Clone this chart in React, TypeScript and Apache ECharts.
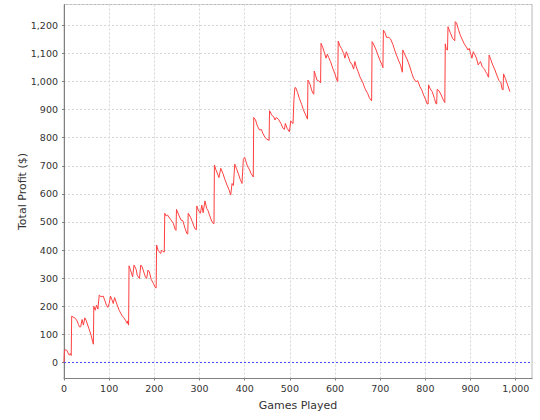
import React, { useEffect, useRef } from "react";
import * as echarts from "echarts";

const games: number[] = [
  0, 1, 5, 7, 10, 12, 14, 16,
  17, 20, 25, 29, 32, 34, 37, 40, 43, 46, 49, 55, 60, 65,
  66, 69, 72, 75, 78, 82, 87, 90, 94, 97, 100, 103, 106, 109, 112, 117, 122, 128, 132, 137, 140, 141, 143,
  144, 147, 152, 155, 160, 162, 167, 170, 173, 180, 183, 186, 189, 193, 198, 202, 204,
  205, 208, 214, 216, 219, 222,
  223, 226, 229, 236, 242, 246, 248,
  249, 254, 259, 263, 268, 272, 274,
  275, 280, 284, 288, 291, 293,
  294, 297, 302, 305, 308, 312, 316, 319, 322, 326, 329, 332,
  333, 336, 341, 343, 347, 352, 356, 361, 365, 369, 372, 375, 378, 382, 387, 390, 394, 397, 400, 403, 406, 411, 414, 418, 419,
  420, 424, 428, 433, 437, 440, 445, 449, 452, 454,
  455, 460, 464, 467, 470, 475, 480, 485, 488, 490, 494, 499, 502, 505, 507,
  509, 511, 513, 517, 521, 526, 530, 535, 539,
  540, 545, 548, 551, 553,
  554, 557, 560, 564, 567, 568,
  569, 573, 577, 580, 583, 586, 590, 595, 600, 604, 606,
  607, 611, 614, 619, 622, 625, 629, 633, 638, 641, 644, 647, 651, 655, 662, 666, 672, 676, 681,
  682, 686, 691, 695, 700, 704, 706,
  707, 711, 714, 719, 723, 728, 732, 736, 741, 745, 749,
  750, 755, 760, 765, 770, 774, 779, 783, 788, 792, 796, 801, 804, 806,
  807, 811, 815, 820, 823, 825,
  826, 830, 835, 839, 843,
  844, 846, 849,
  850, 855, 860, 863, 865,
  866, 869, 873, 877, 882, 886, 891, 894, 897, 900, 903, 906, 910, 913, 917, 922, 926, 931, 933, 936, 939, 940,
  941, 945, 949, 954, 958, 963, 967, 970, 972,
  973, 977, 982, 987,
];

const profit: number[] = [
  0, 44, 45, 41, 30, 26, 32, 25,
  165, 162, 157, 148, 135, 127, 127, 153, 133, 159, 150, 121, 97, 65,
  200, 186, 204, 190, 240, 234, 236, 222, 204, 196, 210, 236, 224, 210, 231, 208, 186, 168, 160, 148, 139, 148, 133,
  344, 330, 305, 347, 330, 311, 299, 347, 340, 305, 299, 329, 322, 296, 281, 267, 265,
  418, 400, 388, 400, 395, 393,
  531, 521, 525, 509, 495, 474, 470,
  545, 525, 507, 505, 477, 459, 457,
  531, 517, 501, 483, 474, 472,
  557, 543, 531, 560, 533, 575, 548, 540, 525, 507, 497, 494,
  703, 687, 667, 658, 691, 672, 652, 631, 616, 596, 637, 630, 706, 689, 667, 652, 637, 723, 730, 714, 699, 685, 673, 663, 660,
  872, 863, 842, 827, 829, 816, 801, 795, 792, 790,
  896, 880, 875, 863, 872, 865, 851, 833, 830, 851, 833, 821, 860, 853, 850,
  935, 978, 978, 961, 940, 919, 899, 881, 866,
  1005, 989, 970, 958, 955,
  1037, 1021, 1005, 1002, 997, 995,
  1136, 1120, 1100, 1083, 1097, 1085, 1071, 1047, 1026, 1005, 1000,
  1144, 1126, 1118, 1100, 1083, 1106, 1090, 1071, 1059, 1044, 1071, 1052, 1035, 1017, 994, 976, 958, 942, 931,
  1142, 1130, 1112, 1094, 1073, 1059, 1049,
  1183, 1172, 1157, 1157, 1151, 1132, 1112, 1094, 1073, 1059, 1033,
  1112, 1094, 1077, 1055, 1029, 1011, 999, 1003, 981, 970, 952, 934, 920, 920,
  988, 973, 964, 940, 922, 920,
  972, 967, 952, 937, 925,
  1134, 1115, 1112,
  1195, 1174, 1154, 1148, 1145,
  1213, 1208, 1186, 1166, 1148, 1134, 1122, 1112, 1118, 1100, 1083, 1106, 1094, 1083, 1059, 1071, 1052, 1044, 1035, 1029, 1017, 1015,
  1094, 1077, 1059, 1041, 1023, 1003, 996, 972, 970,
  1027, 1011, 988, 964,
];

const zeroLineValue = 0;

const xMin = 0;
const xMax = 1036;
const yMin = -57;
const yMax = 1274;

const fmt = (v: number) => Math.round(v).toLocaleString("en-US");

export default function App() {
  const ref = useRef<HTMLDivElement>(null);
  useEffect(() => {
    if (!ref.current) return;
    const chart = echarts.init(ref.current, undefined, { renderer: "svg" });
    const font = "DejaVu Sans";
    chart.setOption({
      animation: false,
      backgroundColor: "#ffffff",
      grid: {
        left: 64,
        right: 8,
        top: 4.5,
        bottom: 41.5,
        show: true,
        borderColor: "#bdbdbd",
        borderWidth: 1,
        backgroundColor: "#ffffff",
      },
      xAxis: {
        type: "value",
        min: xMin,
        max: xMax,
        interval: 100,
        name: "Games Played",
        nameLocation: "middle",
        nameGap: 21,
        nameTextStyle: { fontFamily: font, fontSize: 11, color: "#333333" },
        axisLine: { show: true, onZero: false, lineStyle: { color: "#808080", width: 1 } },
        axisTick: { show: true, length: 2, lineStyle: { color: "#808080" } },
        axisLabel: {
          fontFamily: font,
          fontSize: 9.5,
          color: "#333333",
          margin: 5,
          formatter: fmt,
          showMaxLabel: false,
        },
        splitLine: { show: true, lineStyle: { color: "#d6d6d6", type: [2, 2], width: 1 } },
      },
      yAxis: {
        type: "value",
        min: yMin,
        max: yMax,
        splitNumber: 12,
        name: "Total Profit ($)",
        nameLocation: "middle",
        nameGap: 36,
        nameMoveOverlap: false,
        nameRotate: 90,
        nameTextStyle: { fontFamily: font, fontSize: 11, color: "#333333" },
        axisLine: { show: true, onZero: false, lineStyle: { color: "#808080", width: 1 } },
        axisTick: { show: true, length: 2, lineStyle: { color: "#808080" } },
        axisLabel: {
          fontFamily: font,
          fontSize: 9.5,
          color: "#333333",
          margin: 6,
          formatter: fmt,
          showMinLabel: false,
          showMaxLabel: false,
        },
        splitLine: { show: true, lineStyle: { color: "#d6d6d6", type: [2, 2], width: 1 } },
      },
      series: [
        {
          type: "line",
          name: "zero",
          data: [
            [xMin, zeroLineValue],
            [xMax, zeroLineValue],
          ],
          showSymbol: false,
          symbol: "none",
          silent: true,
          lineStyle: { color: "#4646ff", type: [2, 2], width: 1 },
          z: 4,
        },
        {
          type: "line",
          name: "profit",
          data: games.map((g, i) => [g, profit[i]]),
          showSymbol: false,
          symbol: "none",
          lineStyle: { color: "#ff4040", width: 1 },
          z: 3,
        },
      ],
    });
    return () => chart.dispose();
  }, []);
  return (
    <div
      ref={ref}
      style={{ position: "fixed", left: 0, top: 0, width: 540, height: 420, background: "#fff" }}
    />
  );
}
